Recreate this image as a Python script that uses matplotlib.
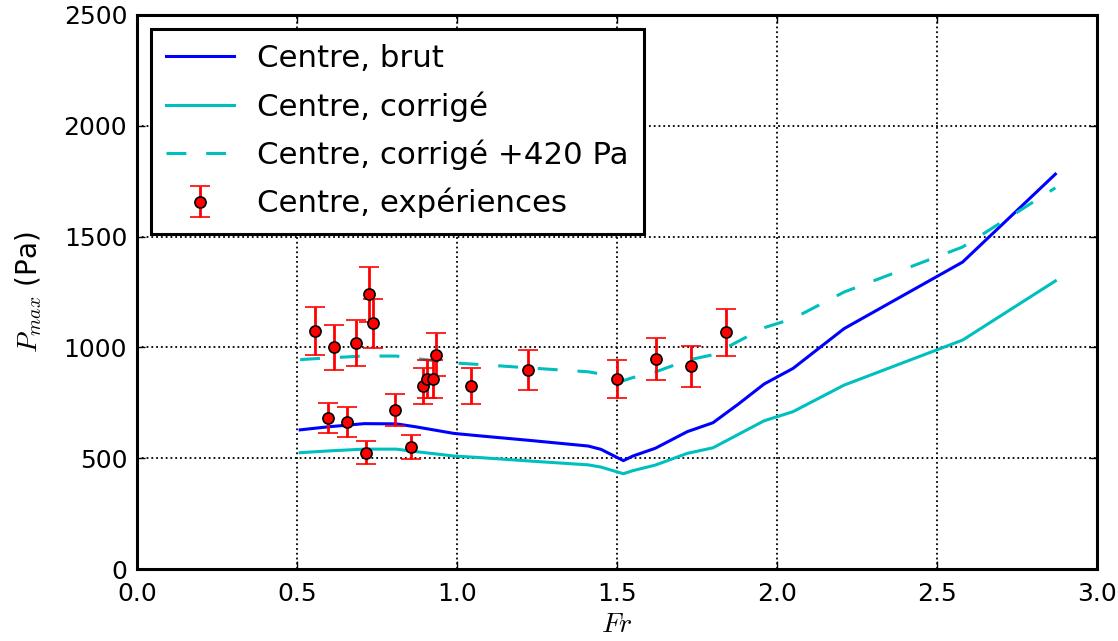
import matplotlib
matplotlib.use("Agg")
import matplotlib.pyplot as plt
import numpy as np

plt.rcParams["mathtext.fontset"] = "cm"
plt.rcParams["font.family"] = "DejaVu Sans"

# Model curves (Froude number grid shared by both curves)
fr_model = [0.51, 0.60, 0.71, 0.81, 0.87, 0.99, 1.07, 1.23, 1.41, 1.45, 1.52,
            1.55, 1.62, 1.72, 1.80, 1.88, 1.96, 2.05, 2.21, 2.58, 2.87]
p_brut = [628, 642, 656, 655, 642, 612, 601, 580, 555, 540, 489,
          510, 545, 620, 660, 745, 835, 905, 1085, 1385, 1782]
p_corr = [525, 533, 541, 541, 530, 510, 503, 487, 470, 460, 430,
          444, 469, 522, 547, 608, 669, 710, 830, 1033, 1300]
offset = 420  # Pa, shift shown in the legend

# Experiments
fr_exp = [0.556, 0.596, 0.617, 0.656, 0.686, 0.716, 0.726, 0.738, 0.806, 0.855,
          0.895, 0.905, 0.925, 0.933, 1.044, 1.223, 1.501, 1.622, 1.730, 1.840]
p_exp = [1075, 680, 1000, 663, 1020, 525, 1240, 1109, 719, 551,
         826, 859, 856, 966, 826, 900, 859, 949, 915, 1068]
p_err = [108, 68, 100, 66, 102, 53, 124, 111, 72, 55,
         83, 86, 86, 97, 83, 90, 86, 95, 92, 107]

fig = plt.figure(figsize=(11.18, 6.41), dpi=100)
ax = fig.add_axes([0.1225, 0.1123, 0.8587, 0.8643])

ax.plot(fr_model, p_brut, color="b", lw=2.2, label="Centre, brut")
ax.plot(fr_model, p_corr, color="c", lw=2.2, label="Centre, corrigé")
ax.plot(fr_model, np.array(p_corr) + offset, color="c", lw=2.2,
        linestyle=(0, (6.5, 6.5)), label="Centre, corrigé +420 Pa")
ax.errorbar(fr_exp, p_exp, yerr=p_err, fmt="o", color="r", ecolor="r",
            mfc="r", mec="k", mew=1.2, ms=8, elinewidth=2, capsize=7.5,
            capthick=2, label="Centre, expériences", zorder=3)

ax.set_xlim(0, 3.0)
ax.set_ylim(0, 2500)
ax.set_xticks(np.arange(0, 3.01, 0.5))
ax.set_yticks(np.arange(0, 2501, 500))
ax.grid(True, color="k", linestyle=":", linewidth=1.3)

ax.tick_params(direction="in", length=6, width=1, labelsize=18,
               top=True, right=True)
ax.tick_params(axis="x", pad=9)
ax.tick_params(axis="y", pad=7)
for sp in ax.spines.values():
    sp.set_linewidth(2.2)

ax.set_xlabel("$Fr$", fontsize=20, labelpad=3)
ax.set_ylabel("$P_{max}$ (Pa)", fontsize=20, labelpad=14)

leg = ax.legend(loc="upper left", fontsize=22.2, fancybox=False, framealpha=1,
                edgecolor="k", handlelength=2.2, handletextpad=0.75,
                labelspacing=0.58, borderpad=0.5, borderaxespad=0.45,
                numpoints=1)
leg.get_frame().set_linewidth(2.2)

fig.savefig("out.png", dpi=100)
